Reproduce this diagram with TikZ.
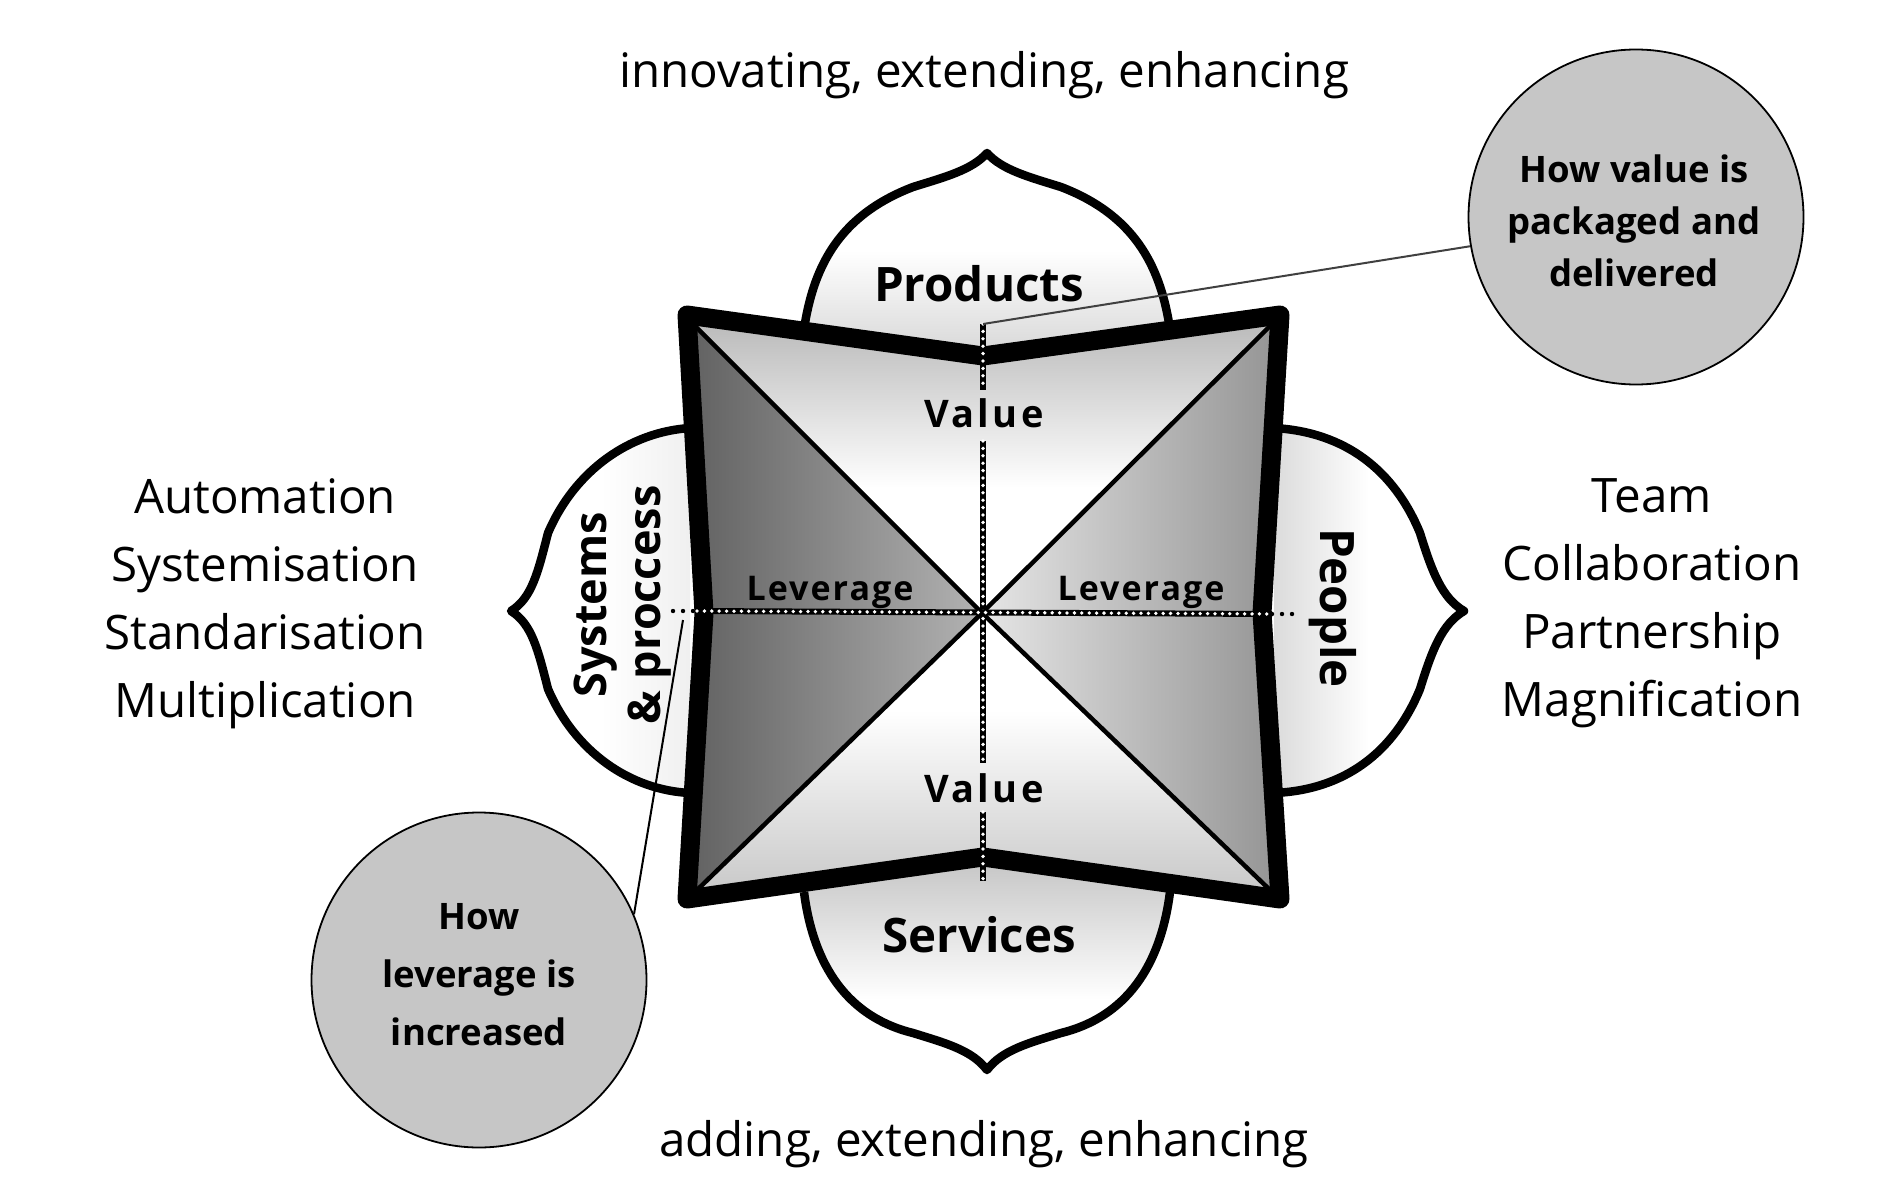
\documentclass[tikz,border=0pt]{standalone}
\usepackage{fontspec}
\setmainfont{Open Sans}
\newfontfamily\spacedbold[LetterSpace=6]{Open Sans}
\newfontfamily\widebold[LetterSpace=9]{Open Sans}
\usetikzlibrary{calc}
\definecolor{circ}{HTML}{C6C6C6}
\pgfdeclareverticalshading{topquarter}{100bp}{color(0bp)=(white); color(46bp)=(white); color(75bp)=(black!28); color(100bp)=(black!28)}
\pgfdeclareverticalshading{botquarter}{100bp}{color(0bp)=(black!22); color(25bp)=(black!22); color(58bp)=(white); color(100bp)=(white)}
\pgfdeclareverticalshading{toppetal}{100bp}{color(0bp)=(black!17); color(25bp)=(black!17); color(52bp)=(white); color(100bp)=(white)}
\pgfdeclareverticalshading{botpetal}{100bp}{color(0bp)=(white); color(41bp)=(white); color(75bp)=(black!24); color(100bp)=(black!24)}
\tikzset{
  x=1pt,y=-1pt,
  petal/.style={draw=black,line width=8.5pt,line join=round},
  band/.style={draw=black,line width=19pt,line join=round},
  diag/.style={draw=black,line width=4.5pt},
  dotbar/.style={draw=black,line width=6pt,postaction={draw=white,line width=3.8pt,line cap=round,dash pattern=on 0pt off 7.4pt}},
  enddots/.style={draw=black,line width=4.4pt,line cap=round,dash pattern=on 0pt off 10pt},
  lead/.style={draw=black!75,line width=2pt},
  bubble/.style={circle,draw=black,line width=1.8pt,fill=circ,minimum size=335pt,inner sep=0pt},
  bubbletext/.style={inner sep=0pt,align=center,font=\bfseries\fontsize{36.5}{52}\selectfont},
  bigtext/.style={inner sep=0pt,align=center,font=\fontsize{47.5}{68}\selectfont},
  head/.style={inner sep=0pt,align=center,font=\bfseries\fontsize{47.5}{54}\selectfont},
  tagv/.style={inner sep=0pt,font=\widebold\bfseries\fontsize{38}{44}\selectfont},
  tag/.style={inner sep=0pt,font=\spacedbold\bfseries\fontsize{34}{40}\selectfont},
}
\newcommand\ptop{(805,323) .. controls (815,265) and (840,215) .. (913,187) .. controls (945,177) and (972,170) .. (987,153)
  .. controls (1002,170) and (1029,177) .. (1061,187) .. controls (1134,215) and (1159,265) .. (1169,323)}
\newcommand\pbot{(804,892) .. controls (812,955) and (840,1015) .. (913,1033) .. controls (945,1043) and (972,1050) .. (987,1070)
  .. controls (1002,1050) and (1029,1043) .. (1061,1033) .. controls (1134,1015) and (1162,955) .. (1170,892)}
\begin{document}
\begin{tikzpicture}
\useasboundingbox (0,0) rectangle (1878,1182);
\coordinate (O) at (982,613);
\coordinate (TL) at (687,315); \coordinate (TM) at (983,356); \coordinate (TR) at (1280,315);
\coordinate (RM) at (1262,613); \coordinate (BR) at (1280,899); \coordinate (BM) at (983,857);
\coordinate (BL) at (687,899); \coordinate (LM) at (704,613);
% petals
\path[shading=toppetal] \ptop -- (1169,365) -- (805,365) -- cycle;
\path[petal] \ptop;
\path[shading=botpetal] \pbot -- (1170,850) -- (804,850) -- cycle;
\path[petal] \pbot;
\path[petal,left color=white,right color=black!6,middle color=white]
  (690,428) .. controls (630,432) and (575,470) .. (548,533) .. controls (538,572) and (532,598) .. (511,611)
  .. controls (532,624) and (538,650) .. (548,689) .. controls (575,752) and (630,790) .. (690,793);
\path[petal,right color=white,left color=black!14,middle color=white]
  (1274,428) .. controls (1345,432) and (1394,470) .. (1420,533) .. controls (1432,572) and (1442,598) .. (1464,611)
  .. controls (1442,624) and (1432,650) .. (1420,689) .. controls (1394,752) and (1345,790) .. (1274,793);
% quarters
\path[shading=topquarter] (TL) -- (TM) -- (TR) -- (O) -- cycle;
\path[shading=botquarter] (BL) -- (BM) -- (BR) -- (O) -- cycle;
\path[left color=black!62,right color=black!30] (TL) -- (LM) -- (BL) -- (O) -- cycle;
\path[right color=black!42,left color=black!10] (TR) -- (RM) -- (BR) -- (O) -- cycle;
\draw[diag] (695,326) -- (O); \draw[diag] (1270,326) -- (O);
\draw[diag] (1270,890) -- (O); \draw[diag] (695,892) -- (O);
\draw[band] (TL) -- (TM) -- (TR) -- (RM) -- (BR) -- (BM) -- (BL) -- (LM) -- cycle;
% labels
\node[head] (products) at (979,284) {Products};
\node[head] (services) at (979,935) {Services};
\node[tagv] (v1) at (984,413) {Value};
\node[tagv] (v2) at (984,788) {Value};
\node[tag] (l1) at (830,592) {Leverage};
\node[tag] (l2) at (1141,592) {Leverage};
\node[head,rotate=-90] (people) at (1333,608) {People};
\node[head,rotate=90,font=\bfseries\fontsize{45}{54}\selectfont] (systems) at (623,605) {Systems\\\& proccess};
\node[bigtext] (top) at (984,75) {innovating, extending, enhancing};
\node[bigtext] (bottom) at (984,1144) {adding, extending, enhancing};
\node[bigtext] (ltext) at (265,604) {Automation\\Systemisation\\Standarisation\\Multiplication};
\node[bigtext] (rtext) at (1652,603) {Team\\Collaboration\\Partnership\\Magnification};
\node[bubble] (c1) at (1636,217) {};
\node[bubbletext] (c1t) at (1634,221) {How value is\\packaged and\\delivered};
\node[bubble] (c2) at (479,980) {};
\node[bubbletext,font=\bfseries\fontsize{36.5}{58}\selectfont] (c2t) at (479,975) {How\\leverage is\\increased};
% dotted axes
\coordinate (vt) at (983,324); \coordinate (va) at (983,390); \coordinate (vb) at (983,441);
\coordinate (vc) at (983,763); \coordinate (vd) at (983,812); \coordinate (ve) at (983,881);
\coordinate (hl) at (697,611); \coordinate (hr) at (1272,614);
\coordinate (hll) at (673,611); \coordinate (hrr) at (1298,614);
\path[dotbar] (vt) -- (va);
\path[dotbar] (vb) -- (vc);
\path[dotbar] (vd) -- (ve);
\path[dotbar] (hl) -- (hr);
\path[enddots] (hll) -- (hl);
\path[enddots] (hr) -- (hrr);
% leaders
\coordinate (lv) at (983,324); \coordinate (ll) at (683,620);
\draw[lead] (c1.190) -- (lv);
\draw[lead,draw=black] (c2.23) -- (ll);
\end{tikzpicture}
\end{document}
